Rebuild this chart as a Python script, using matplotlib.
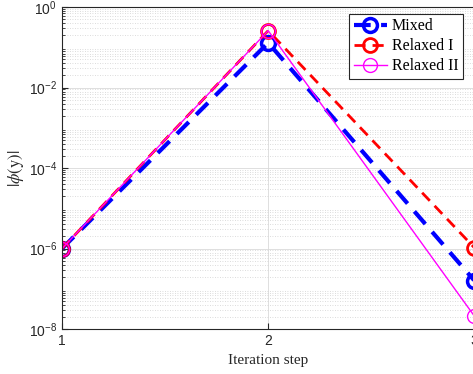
import matplotlib

matplotlib.use("Agg")
import matplotlib.pyplot as plt
import numpy as np

steps = [1, 2, 3]
mixed = [1.0e-6, 1.3e-1, 1.6e-7]
relaxed_1 = [1.0e-6, 2.6e-1, 1.05e-6]
relaxed_2 = [1.0e-6, 2.6e-1, 2.1e-8]

plt.rcParams["font.family"] = "Liberation Sans"
plt.rcParams["mathtext.fontset"] = "stix"

fig = plt.figure(figsize=(4.73, 3.74), dpi=100)
ax = fig.add_axes([0.131, 0.120, 0.872, 0.861])

ax.plot(steps, mixed, color="#0000ff", linestyle=(0, (4, 2.5)), linewidth=3,
        marker="o", markersize=10, markerfacecolor="none", markeredgewidth=2.5,
        label="Mixed")
ax.plot(steps, relaxed_1, color="#ff0000", linestyle=(0, (4, 2.5)), linewidth=2,
        marker="o", markersize=10, markerfacecolor="none", markeredgewidth=2,
        label="Relaxed I")
ax.plot(steps, relaxed_2, color="#ff00ff", linestyle="-", linewidth=1,
        marker="o", markersize=10, markerfacecolor="none", markeredgewidth=1,
        label="Relaxed II")

ax.set_yscale("log")
ax.set_xlim(1, 3)
ax.set_ylim(1e-8, 1e0)
ax.set_xticks([1, 2, 3])
ax.set_yticks([1e-8, 1e-6, 1e-4, 1e-2, 1e0])
ax.yaxis.set_minor_locator(matplotlib.ticker.LogLocator(base=10, subs=np.arange(2, 10), numticks=20))
ax.yaxis.set_minor_formatter(matplotlib.ticker.NullFormatter())
ax.tick_params(which="both", direction="in", labelsize=10, colors="#262626")
ax.tick_params(which="major", length=4)
ax.tick_params(which="minor", length=2)
ax.grid(True, which="major", color="#d9d9d9", linewidth=0.6)
ax.grid(True, which="minor", axis="y", color="#d0d0d0", linestyle=(0, (1, 2)), linewidth=0.6)
ax.set_axisbelow(True)
for s in ax.spines.values():
    s.set_color("#262626")
    s.set_linewidth(0.8)

ax.set_xlabel("Iteration step", family="Liberation Serif", fontsize=11, color="#262626", labelpad=4)
ax.set_ylabel(r"$|\phi(\mathrm{y})|$", fontsize=12, color="#262626", labelpad=2)

leg = ax.legend(loc="upper right", bbox_to_anchor=(0.985, 0.995), prop={"family": "Liberation Serif", "size": 11.5},
                fancybox=False, framealpha=1, edgecolor="#262626", borderpad=0.3,
                labelspacing=0.25, handlelength=2.1, handletextpad=0.3, borderaxespad=0.3)
leg.get_frame().set_linewidth(0.8)

fig.savefig("out.png", dpi=100)
